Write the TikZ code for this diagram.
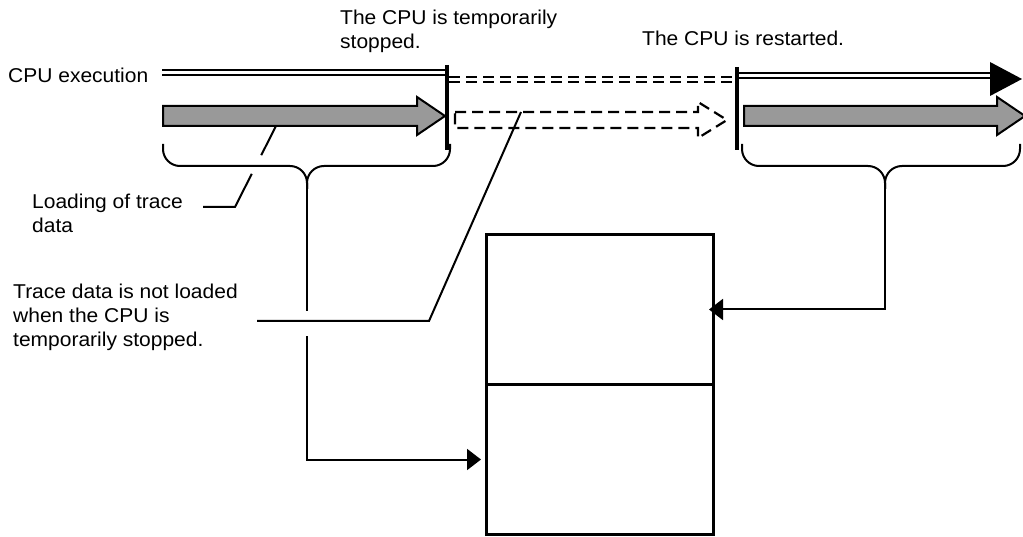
\documentclass[tikz,border=0pt]{standalone}
\usepackage{fontspec}
\setmainfont{Liberation Sans}[FakeStretch=1.05]
\usetikzlibrary{
  arrows.meta,
  calc,
  positioning
}
\definecolor{loadgray}{RGB}{153,153,153}

\tikzset{
  note/.style = {anchor=base west, inner sep=0pt, align=left,
                 font=\fontsize{20}{24}\selectfont},
  execline/.style = {double, line width=2pt, double distance=3pt},
  haltline/.style = {execline, dash pattern=on 11pt off 6pt},
  stopbar/.style = {line width=3.5pt},
  loadarrow/.style = {draw, fill=loadgray, line width=2pt},
  idlearrow/.style = {draw, line width=2.2pt, dash pattern=on 11pt off 6pt},
  bufcell/.style = {draw, line width=3pt, minimum width=227pt,
                    minimum height=150pt, inner sep=0pt, outer sep=0pt},
  leader/.style = {line width=2pt},
  feed/.style = {leader, -{Triangle[length=14pt,width=21pt]}},
  curly/.style = {line width=2pt, rounded corners=17pt}
}

\begin{document}
\begin{tikzpicture}[x=1pt, y=-1pt]
    \useasboundingbox (0,0) rectangle (1023,537);

    % texts (base = last line)
    \node[note] (cpu) at (8,83) {CPU execution};
    \node[note] (stop) at (340,49) {The CPU is temporarily\\stopped.};
    \node[note] (restart) at (642,46) {The CPU is restarted.};
    \node[note] (load) at (32,233) {Loading of trace\\data};
    \node[note] (noload) at (13,347) {Trace data is not loaded\\when the CPU is\\temporarily stopped.};

    % CPU execution line
    \coordinate (run1) at (162,73);
    \coordinate (halt) at (449,80);
    \coordinate (haltend) at (735,80);
    \coordinate (run2) at (739,76);
    \coordinate (runend) at (992,76);
    \draw[execline] (run1) -- (447,73);
    \draw[haltline] (halt) -- (haltend);
    \draw[execline] (run2) -- (runend);
    \fill (990,62) -- (1022,79) -- (990,96) -- cycle;

    % stop and restart
    \draw[stopbar] (447,65) -- (447,150);
    \draw[stopbar] (737,67) -- (737,150);

    % loading of trace data
    \draw[loadarrow] (163,106) -- (417,106) -- (417,97) -- (445,116)
      -- (417,135) -- (417,126) -- (163,126) -- cycle;
    \draw[idlearrow] (455,112) -- (698,112) -- (698,102) -- (727,120)
      -- (698,138) -- (698,128) -- (455,128) -- cycle;
    \draw[loadarrow] (744,106) -- (997,106) -- (997,97) -- (1025,116)
      -- (997,135) -- (997,126) -- (744,126) -- cycle;

    % braces
    \coordinate (tipA) at (307,189);
    \coordinate (tipB) at (885,189);
    \draw[curly] (163,144) |- (307,166) -- (tipA);
    \draw[curly] (450,144) |- (307,166) -- (tipA);
    \draw[curly] (742,144) |- (885,166) -- (tipB);
    \draw[curly] (1020,144) |- (885,166) -- (tipB);

    % trace memory
    \node[bufcell] (bufhi) at (599.5,309.5) {};
    \node[bufcell, below = 0pt of bufhi] (buflo) {};

    % connectors
    \coordinate (feedA) at (tipA |- buflo.west);
    \draw[leader] (tipA) -- ($(tipA)!0.45!(feedA)$);
    \draw[feed, shorten >=5pt] ($(tipA)!0.545!(feedA)$) -- (feedA) -- (buflo.west);
    \draw[feed, shorten >=-4pt] (tipB) |- (bufhi.east);

    % leaders
    \coordinate (ldA) at (276,126);
    \coordinate (ldB) at (235,207);
    \coordinate (ldC) at (203,207);
    \draw[leader] (ldA) -- ($(ldA)!0.36!(ldB)$);
    \draw[leader] ($(ldA)!0.59!(ldB)$) -- (ldB) -- (ldC);

    \coordinate (nlA) at (257,321);
    \coordinate (nlB) at (429,321);
    \coordinate (nlC) at (521,112);
    \draw[leader] (nlA) -- (nlB) -- (nlC);
\end{tikzpicture}
\end{document}
